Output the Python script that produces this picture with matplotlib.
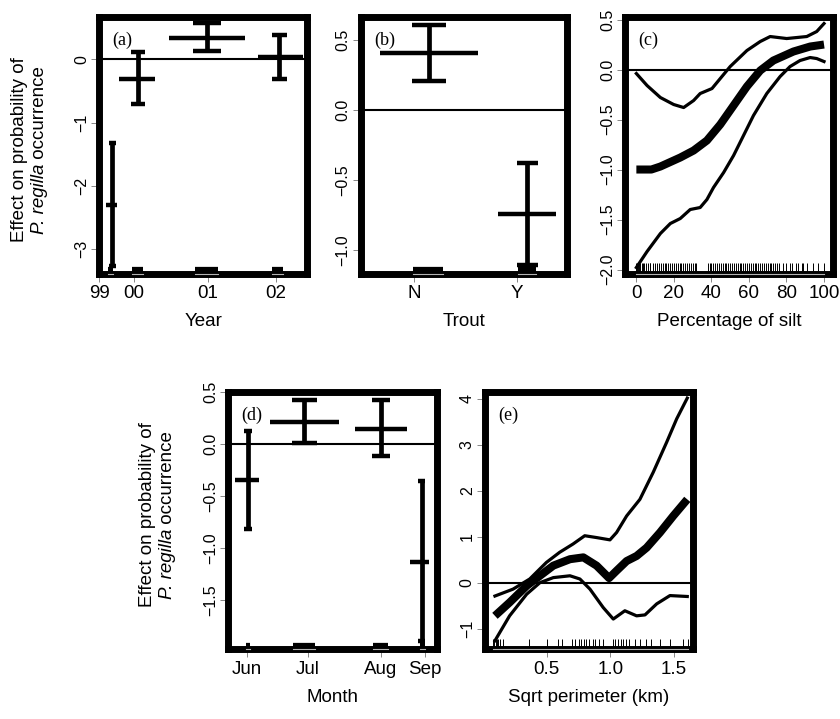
import numpy as np
import matplotlib.pyplot as plt
import matplotlib.transforms as mtransforms

plt.rcParams['font.family'] = ['Liberation Sans', 'DejaVu Sans']

# (a) Year: factor levels (x in relative units of the factor axis)
year_labels = ['99', '00', '01', '02']
year_ticks = [-0.002, 0.163, 0.523, 0.851]
year_x = [0.061, 0.186, 0.518, 0.867]
year_lo = [0.032, 0.095, 0.332, 0.765]
year_hi = [0.085, 0.265, 0.701, 0.981]
year_cap = [0.017, 0.034, 0.068, 0.038]
year_fit = [-2.31, -0.31, 0.34, 0.03]
year_up = [-1.33, 0.11, 0.57, 0.38]
year_low = [-3.27, -0.71, 0.13, -0.32]
year_rug_lo = [0.041, 0.157, 0.46, 0.831]
year_rug_hi = [0.066, 0.21, 0.571, 0.884]

# (b) Trout
trout_labels = ['N', 'Y']
trout_ticks = [0.258, 0.757]
trout_x = [0.331, 0.809]
trout_lo = [0.093, 0.668]
trout_hi = [0.569, 0.948]
trout_cap = [0.083, 0.052]
trout_fit = [0.41, -0.74]
trout_up = [0.61, -0.38]
trout_low = [0.21, -1.11]
trout_rug_lo = [0.255, 0.765]
trout_rug_hi = [0.401, 0.851]

# (c) Percentage of silt
silt_fit_x = [0, 8, 12.8, 23.4, 30.5, 37.6, 44.7, 51.8, 58.9, 66, 73, 83.7, 92.6, 100]
silt_fit = [-1.0, -1.0, -0.97, -0.88, -0.81, -0.71, -0.55, -0.36, -0.17, -0.01, 0.09, 0.18, 0.23, 0.25]
silt_up_x = [0, 5.7, 12.8, 19.9, 25.2, 30.5, 34, 40.3, 44.7, 50, 58.9, 66, 71.3, 80.1, 90.8, 96.1, 100]
silt_up = [-0.04, -0.16, -0.28, -0.35, -0.38, -0.31, -0.24, -0.19, -0.09, 0.03, 0.19, 0.28, 0.33, 0.31, 0.33, 0.38, 0.46]
silt_low_x = [0, 5.7, 12.8, 18.1, 23.4, 28.7, 34, 37.6, 41.1, 46.5, 51.8, 57.1, 62.4, 69.5, 76.6, 81.9, 87.2, 92.6, 96.1, 100]
silt_low = [-1.98, -1.82, -1.64, -1.54, -1.49, -1.40, -1.38, -1.30, -1.18, -1.03, -0.86, -0.66, -0.46, -0.24, -0.07, 0.03, 0.09, 0.12, 0.11, 0.08]
silt_rug = [0, 0.5, 1, 1.5, 2, 3, 3.5, 4, 5, 6, 7, 7.5, 9, 10, 11, 12, 13, 14, 15, 16, 17, 18,
            19, 20, 21, 22, 23, 24, 25, 26, 27, 28, 29, 30, 31, 32, 38, 39, 40, 41, 42, 43,
            44, 45, 46, 47, 48, 49, 50, 51, 52, 53, 54, 55, 56, 57, 58, 59, 60, 61, 62, 63,
            64, 65, 66, 67, 68, 69, 70, 71, 72, 73, 74, 75, 76, 78, 80, 82, 83, 85, 86, 88,
            89, 91, 94, 97, 100]

# (d) Month
month_labels = ['Jun', 'Jul', 'Aug', 'Sep']
month_ticks = [0.088, 0.381, 0.733, 0.944]
month_x = [0.093, 0.365, 0.733, 0.928]
month_lo = [0.032, 0.2, 0.608, 0.872]
month_hi = [0.149, 0.533, 0.856, 0.965]
month_cap = [0.02, 0.06, 0.043, 0.016]
month_fit = [-0.35, 0.21, 0.14, -1.13]
month_up = [0.12, 0.42, 0.42, -0.36]
month_low = [-0.82, 0.01, -0.12, -1.89]
month_rug_lo = [0.083, 0.31, 0.693, 0.918]
month_rug_hi = [0.104, 0.416, 0.765, 0.942]

# (e) Sqrt perimeter
perim_fit_x = [0.094, 0.209, 0.343, 0.447, 0.552, 0.683, 0.788, 0.892, 0.99, 1.049, 1.128, 1.206, 1.285, 1.39, 1.494, 1.604]
perim_fit = [-0.72, -0.43, -0.07, 0.15, 0.37, 0.51, 0.55, 0.37, 0.1, 0.26, 0.47, 0.58, 0.76, 1.09, 1.45, 1.81]
perim_up_x = [0.094, 0.236, 0.367, 0.498, 0.602, 0.707, 0.799, 0.892, 0.997, 1.049, 1.128, 1.232, 1.337, 1.442, 1.521, 1.604]
perim_up = [-0.29, -0.14, 0.08, 0.44, 0.66, 0.84, 1.02, 0.98, 0.93, 1.09, 1.45, 1.81, 2.40, 3.05, 3.56, 4.01]
perim_low_x = [0.094, 0.209, 0.343, 0.447, 0.552, 0.683, 0.761, 0.84, 0.944, 1.023, 1.114, 1.206, 1.272, 1.364, 1.468, 1.604]
perim_low = [-1.26, -0.72, -0.25, 0.0, 0.11, 0.15, 0.08, -0.14, -0.54, -0.79, -0.61, -0.72, -0.70, -0.46, -0.28, -0.30]
perim_rug = [0.08, 0.09, 0.1, 0.11, 0.12, 0.13, 0.16, 0.36, 0.5, 0.59, 0.62, 0.70, 0.72, 0.75, 0.77,
             0.79, 0.81, 0.83, 0.86, 0.88, 0.91, 0.94, 1.02, 1.04, 1.06, 1.08, 1.10, 1.12, 1.15,
             1.19, 1.23, 1.28, 1.32, 1.39, 1.47, 1.57, 1.61]


def frame(ax, xlim, ylim, yticks, ylabels, tag):
    ax.set_xlim(*xlim)
    ax.set_ylim(*ylim)
    for sp in ax.spines.values():
        sp.set_linewidth(5)
        sp.set_capstyle('projecting')
    ax.tick_params(axis='both', length=5.5, width=0.6, color='0.45', direction='out')
    ax.tick_params(axis='x', labelsize=13.5, pad=3)
    ax.tick_params(axis='y', labelsize=11.5, pad=2)
    ax.set_yticks(yticks)
    ax.set_yticklabels(ylabels, rotation=90, va='center')
    ax.axhline(0, color='black', lw=1.5, zorder=1)
    ax.annotate(tag, xy=(0, 1), xycoords='axes fraction', xytext=(13, -23.5),
                textcoords='offset pixels', ha='left', va='center',
                family='Liberation Serif', fontsize=13)


def factor_terms(ax, xc, lo, hi, cap, fit, up, low, rlo, rhi):
    for i in range(len(xc)):
        ax.plot([lo[i], hi[i]], [fit[i], fit[i]], color='black', lw=3.2, solid_capstyle='butt')
        ax.plot([xc[i], xc[i]], [low[i], up[i]], color='black', lw=3.4, solid_capstyle='butt')
        for yy in (up[i], low[i]):
            ax.plot([xc[i] - cap[i], xc[i] + cap[i]], [yy, yy], color='black', lw=3.2,
                    solid_capstyle='butt')
    # rug under each level
    trans = mtransforms.blended_transform_factory(ax.transData, ax.transAxes)
    for a, b in zip(rlo, rhi):
        ax.plot([a, b], [0.012, 0.012], transform=trans, color='black', lw=4.5,
                solid_capstyle='butt', clip_on=False, zorder=3)
        ax.plot([a, b], [0, 0], transform=trans, color='0.7', lw=0.8, clip_on=False, zorder=4)


def smooth_terms(ax, fx, fy, ux, uy, lx, ly, rug):
    ax.plot(fx, fy, color='black', lw=5.8, solid_joinstyle='round', solid_capstyle='butt')
    ax.plot(ux, uy, color='black', lw=2.3, solid_joinstyle='round')
    ax.plot(lx, ly, color='black', lw=2.3, solid_joinstyle='round')
    trans = mtransforms.blended_transform_factory(ax.transData, ax.transAxes)
    ax.vlines(rug, 0, 0.04, transform=trans, color='black', lw=0.7, clip_on=False, zorder=3)
    ax.plot([min(rug), max(rug)], [0, 0], transform=trans, color='0.7', lw=0.8,
            clip_on=False, zorder=4)


def effect_label(fig, x1, x2, yc):
    # two rotated lines, the second one with the italic species name
    W, H = fig.get_size_inches() * fig.dpi
    fig.text(x1 / W, 1 - yc / H, 'Effect on probability of', rotation=90,
             ha='center', va='center', fontsize=13.5)
    t1 = fig.text(x2 / W, 0.5, 'P. regilla', style='italic', rotation=90,
                  ha='center', va='center', fontsize=13.5)
    t2 = fig.text(x2 / W, 0.5, '\u00a0occurrence', rotation=90,
                  ha='center', va='center', fontsize=13.5)
    r = fig.canvas.get_renderer()
    h1 = t1.get_window_extent(r).height
    h2 = t2.get_window_extent(r).height
    y0 = (H - yc) - (h1 + h2) / 2
    t1.set_y((y0 + h1 / 2) / H)
    t2.set_y((y0 + h1 + h2 / 2) / H)


fig = plt.figure(figsize=(8.4, 7.19), dpi=100)

top_b, top_h = 0.6196, 0.3574
bot_b, bot_h = 0.0974, 0.3579

# (a)
ax = fig.add_axes([0.1183, top_b, 0.2471, top_h])
frame(ax, (0, 1), (-3.384, 0.673), [-3, -2, -1, 0], ['\u22123', '\u22122', '\u22121', '0'], '(a)')
factor_terms(ax, year_x, year_lo, year_hi, year_cap, year_fit, year_up, year_low,
             year_rug_lo, year_rug_hi)
ax.set_xticks(year_ticks)
ax.set_xticklabels(year_labels)
ax.set_xlabel('Year', fontsize=13.5, labelpad=8)

# (b)
ax = fig.add_axes([0.4295, top_b, 0.2451, top_h])
frame(ax, (0, 1), (-1.169, 0.669), [-1.0, -0.5, 0.0, 0.5], ['\u22121.0', '\u22120.5', '0.0', '0.5'], '(b)')
factor_terms(ax, trout_x, trout_lo, trout_hi, trout_cap, trout_fit, trout_up, trout_low,
             trout_rug_lo, trout_rug_hi)
ax.set_xticks(trout_ticks)
ax.set_xticklabels(trout_labels)
ax.set_xlabel('Trout', fontsize=13.5, labelpad=8)

# (c)
ax = fig.add_axes([0.7444, top_b, 0.2473, top_h])
frame(ax, (-5.9, 104.8), (-2.04, 0.53), [-2.0, -1.5, -1.0, -0.5, 0.0, 0.5],
      ['\u22122.0', '\u22121.5', '\u22121.0', '\u22120.5', '0.0', '0.5'], '(c)')
smooth_terms(ax, silt_fit_x, silt_fit, silt_up_x, silt_up, silt_low_x, silt_low, silt_rug)
ax.set_xticks([0, 20, 40, 60, 80, 100])
ax.set_xlabel('Percentage of silt', fontsize=13.5, labelpad=8)

# (d)
ax = fig.add_axes([0.2718, bot_b, 0.2481, bot_h])
frame(ax, (0, 1), (-1.967, 0.486), [-1.5, -1.0, -0.5, 0.0, 0.5],
      ['\u22121.5', '\u22121.0', '\u22120.5', '0.0', '0.5'], '(d)')
factor_terms(ax, month_x, month_lo, month_hi, month_cap, month_fit, month_up, month_low,
             month_rug_lo, month_rug_hi)
ax.set_xticks(month_ticks)
ax.set_xticklabels(month_labels)
ax.set_xlabel('Month', fontsize=13.5, labelpad=8)

# (e)
ax = fig.add_axes([0.5777, bot_b, 0.2470, bot_h])
frame(ax, (0.018, 1.647), (-1.44, 4.15), [-1, 0, 1, 2, 3, 4],
      ['\u22121', '0', '1', '2', '3', '4'], '(e)')
smooth_terms(ax, perim_fit_x, perim_fit, perim_up_x, perim_up, perim_low_x, perim_low, perim_rug)
ax.set_xticks([0.5, 1.0, 1.5])
ax.set_xticklabels(['0.5', '1.0', '1.5'])
ax.set_xlabel('Sqrt perimeter (km)', fontsize=13.5, labelpad=8)

# shared y labels
effect_label(fig, 20, 40, 150)
effect_label(fig, 148, 167, 515)

fig.savefig('out.png', dpi=100)
